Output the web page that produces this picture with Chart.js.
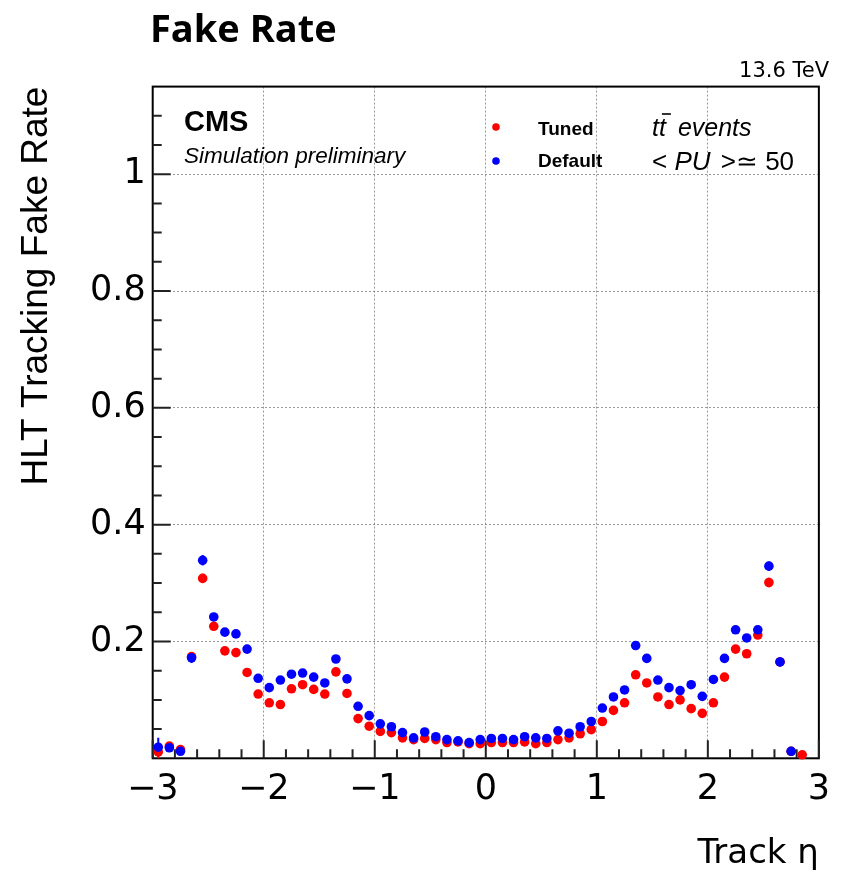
<!DOCTYPE html>
<html>
<head>
<meta charset="utf-8">
<script src="https://cdn.jsdelivr.net/npm/chart.js@4.4.1/dist/chart.umd.min.js"></script>
<style>
  html, body { margin: 0; padding: 0; background: #ffffff; }
  #wrap { width: 841px; height: 878px; position: relative; }
</style>
</head>
<body>
<div id="wrap"><canvas id="c" width="841" height="878"></canvas></div>
<script>
// Track eta bin centres (bin width 0.1)
const etaBins = [
  -2.95, -2.85, -2.75, -2.65, -2.55, -2.45, -2.35, -2.25, -2.15, -2.05,
  -1.95, -1.85, -1.75, -1.65, -1.55, -1.45, -1.35, -1.25, -1.15, -1.05,
  -0.95, -0.85, -0.75, -0.65, -0.55, -0.45, -0.35, -0.25, -0.15, -0.05,
   0.05,  0.15,  0.25,  0.35,  0.45,  0.55,  0.65,  0.75,  0.85,  0.95,
   1.05,  1.15,  1.25,  1.35,  1.45,  1.55,  1.65,  1.75,  1.85,  1.95,
   2.05,  2.15,  2.25,  2.35,  2.45,  2.55,  2.65,  2.75,  2.85,  2.95
];

// Fake rate, tuned HLT tracking
const tunedRate = [
  0.011, 0.021, 0.015, 0.174, 0.308, 0.226, 0.184, 0.181, 0.147, 0.110,
  0.095, 0.092, 0.119, 0.126, 0.118, 0.110, 0.148, 0.111, 0.068, 0.055,
  0.046, 0.044, 0.035, 0.032, 0.034, 0.032, 0.027, 0.028, 0.025, 0.025,
  0.027, 0.027, 0.027, 0.028, 0.025, 0.027, 0.032, 0.035, 0.042, 0.049,
  0.063, 0.082, 0.095, 0.143, 0.129, 0.105, 0.092, 0.100, 0.085, 0.077,
  0.095, 0.139, 0.187, 0.179, 0.211, 0.301, 0.165, 0.012, 0.006, null
];
const tunedErr = [
  0.013, 0.004, 0.004, 0.007, 0.008, 0.005, 0.004, 0.004, 0.004, 0.003,
  0.003, 0.003, 0.003, 0.003, 0.003, 0.003, 0.003, 0.003, 0.002, 0.002,
  0.002, 0.002, 0.002, 0.002, 0.002, 0.002, 0.002, 0.002, 0.002, 0.002,
  0.002, 0.002, 0.002, 0.002, 0.002, 0.002, 0.002, 0.002, 0.002, 0.002,
  0.002, 0.002, 0.003, 0.003, 0.003, 0.003, 0.003, 0.003, 0.003, 0.003,
  0.003, 0.004, 0.005, 0.005, 0.006, 0.008, 0.007, 0.004, 0.004, null
];

// Fake rate, default HLT tracking
const defaultRate = [
  0.019, 0.018, 0.012, 0.172, 0.339, 0.242, 0.216, 0.213, 0.187, 0.137,
  0.121, 0.134, 0.144, 0.146, 0.139, 0.129, 0.170, 0.136, 0.089, 0.073,
  0.059, 0.054, 0.044, 0.035, 0.045, 0.037, 0.032, 0.030, 0.027, 0.032,
  0.034, 0.034, 0.032, 0.037, 0.035, 0.034, 0.047, 0.043, 0.054, 0.063,
  0.086, 0.105, 0.117, 0.193, 0.171, 0.134, 0.121, 0.116, 0.126, 0.106,
  0.135, 0.171, 0.220, 0.206, 0.220, 0.329, 0.165, 0.012, null, null
];
const defaultErr = [
  0.016, 0.005, 0.004, 0.009, 0.009, 0.006, 0.005, 0.005, 0.004, 0.003,
  0.003, 0.003, 0.003, 0.003, 0.003, 0.003, 0.004, 0.003, 0.002, 0.002,
  0.002, 0.002, 0.002, 0.002, 0.002, 0.002, 0.002, 0.002, 0.002, 0.002,
  0.002, 0.002, 0.002, 0.002, 0.002, 0.002, 0.002, 0.002, 0.002, 0.002,
  0.002, 0.003, 0.003, 0.004, 0.004, 0.003, 0.003, 0.003, 0.003, 0.003,
  0.003, 0.004, 0.007, 0.005, 0.007, 0.008, 0.008, 0.004, null, null
];

// Axis tick labels
const xTickValues = [-3, -2, -1, 0, 1, 2, 3];
const xTickLabels = ['\u22123', '\u22122', '\u22121', '0', '1', '2', '3'];
const yTickValues = [0, 0.2, 0.4, 0.6, 0.8, 1.0];
const yTickLabels = ['', '0.2', '0.4', '0.6', '0.8', '1'];

const seriesNames = ['Tuned', 'Default'];
const seriesColors = ['#ff0000', '#0000ff'];

function toPoints(values, errs) {
  const pts = [];
  for (let i = 0; i < etaBins.length; i++) {
    if (values[i] === null) continue;
    pts.push({ x: etaBins[i], y: values[i], err: errs[i] || 0 });
  }
  return pts;
}

function labelFor(values, labels, v) {
  for (let i = 0; i < values.length; i++) {
    if (Math.abs(values[i] - v) < 1e-6) return labels[i];
  }
  return '';
}

// ROOT-style frame, inner ticks and vertical error bars
const rootFrame = {
  id: 'rootFrame',
  beforeDatasetsDraw(chart) {
    const { ctx, chartArea: a, scales: { x, y } } = chart;
    ctx.save();
    ctx.strokeStyle = '#000';
    ctx.lineWidth = 2;
    ctx.strokeRect(a.left, a.top, a.right - a.left, a.bottom - a.top);

    ctx.strokeStyle = '#222';
    ctx.lineWidth = 2;
    ctx.beginPath();
    for (let k = -15; k <= 15; k++) {
      const v = k * 0.2;
      const px = x.getPixelForValue(v);
      const major = (k % 5 === 0);
      ctx.moveTo(px, a.bottom);
      ctx.lineTo(px, a.bottom - (major ? 18 : 9));
    }
    for (let k = 1; k <= 22; k++) {
      const v = k * 0.05;
      const py = y.getPixelForValue(v);
      const major = (k % 4 === 0);
      ctx.moveTo(a.left, py);
      ctx.lineTo(a.left + (major ? 18 : 9), py);
    }
    ctx.stroke();

    // error bars, drawn under the markers
    ctx.lineWidth = 2;
    chart.data.datasets.forEach(ds => {
      ctx.strokeStyle = ds.backgroundColor;
      ctx.beginPath();
      ds.data.forEach(p => {
        if (!p.err) return;
        const px = x.getPixelForValue(p.x);
        ctx.moveTo(px, y.getPixelForValue(Math.max(0, p.y - p.err)));
        ctx.lineTo(px, y.getPixelForValue(p.y + p.err));
      });
      ctx.stroke();
    });
    ctx.restore();
  },
  afterDraw(chart) {
    const { ctx } = chart;
    ctx.save();
    ctx.fillStyle = '#000';
    ctx.textAlign = 'left';
    ctx.textBaseline = 'alphabetic';

    ctx.font = 'bold 38px "Open Sans"';
    ctx.fillText('Fake Rate', 150, 42);

    ctx.textAlign = 'right';
    ctx.font = '21px "DejaVu Sans"';
    ctx.fillText('13.6 TeV', 829, 77);

    ctx.textAlign = 'left';
    ctx.font = 'bold 29px "Liberation Sans"';
    ctx.fillText('CMS', 184, 131);
    ctx.font = 'italic 22.5px "Liberation Sans"';
    ctx.fillText('Simulation preliminary', 184, 163);

    // legend
    const legendY = [127, 161];
    const legendText = [135, 167];
    for (let i = 0; i < 2; i++) {
      ctx.fillStyle = seriesColors[i];
      ctx.beginPath();
      ctx.arc(496, legendY[i], 3.8, 0, Math.PI * 2);
      ctx.fill();
      ctx.fillStyle = '#000';
      ctx.font = 'bold 19px "Liberation Sans"';
      ctx.fillText(seriesNames[i], 538, legendText[i]);
    }

    // t tbar events
    ctx.font = 'italic 25px "Liberation Sans"';
    const t1 = ctx.measureText('t').width;
    ctx.fillText('t', 652, 136);
    ctx.fillText('t', 652 + t1, 136);
    ctx.fillText('events', 652 + 2 * t1 + 12, 136);
    ctx.lineWidth = 1.6;
    ctx.strokeStyle = '#000';
    ctx.beginPath();
    ctx.moveTo(652 + t1 + 3, 114);
    ctx.lineTo(652 + 2 * t1 + 5, 114);
    ctx.stroke();

    // < PU > ~ 50
    let cx = 652;
    ctx.font = '26px "Liberation Sans"';
    ctx.fillText('< ', cx, 170);
    cx += ctx.measureText('< ').width;
    ctx.font = 'italic 26px "Liberation Sans"';
    ctx.fillText('PU', cx, 170);
    cx += ctx.measureText('PU').width + 3;
    ctx.font = '26px "Liberation Sans"';
    ctx.fillText(' >\u2243 50', cx, 170);
    ctx.restore();
  }
};

const chart = new Chart(document.getElementById('c'), {
  type: 'scatter',
  data: {
    datasets: [
      {
        label: seriesNames[0],
        data: toPoints(tunedRate, tunedErr),
        backgroundColor: seriesColors[0],
        borderWidth: 0,
        pointRadius: 4.8,
        order: 2,
        clip: false
      },
      {
        label: seriesNames[1],
        data: toPoints(defaultRate, defaultErr),
        backgroundColor: seriesColors[1],
        borderWidth: 0,
        pointRadius: 4.8,
        order: 1,
        clip: false
      }
    ]
  },
  options: {
    responsive: false,
    animation: false,
    devicePixelRatio: 1,
    layout: { padding: { top: 86.6, right: 10.3, left: 0, bottom: 0 } },
    plugins: {
      legend: { display: false },
      tooltip: { enabled: false },
      title: { display: false }
    },
    scales: {
      x: {
        type: 'linear',
        min: -3,
        max: 3,
        afterFit(s) { s.height = 119.7; },
        afterBuildTicks(s) { s.ticks = xTickValues.map(v => ({ value: v })); },
        ticks: {
          autoSkip: false,
          maxRotation: 0,
          padding: 11,
          color: '#000',
          font: { family: '"DejaVu Sans"', size: 35 },
          callback: v => labelFor(xTickValues, xTickLabels, v)
        },
        grid: {
          color: 'rgba(110,110,110,0.7)',
          lineWidth: 1,
          drawTicks: false
        },
        border: { display: false, dash: [2, 2] },
        title: {
          display: true,
          text: 'Track \u03b7',
          align: 'end',
          color: '#000',
          font: { family: '"DejaVu Sans"', size: 34 },
          padding: { top: 0, bottom: 3 }
        }
      },
      y: {
        type: 'linear',
        min: 0,
        max: 1.15,
        afterFit(s) { s.width = 152.7; },
        afterBuildTicks(s) { s.ticks = yTickValues.map(v => ({ value: v })); },
        ticks: {
          autoSkip: false,
          padding: 7,
          color: '#000',
          font: { family: '"DejaVu Sans"', size: 35 },
          callback: v => labelFor(yTickValues, yTickLabels, v)
        },
        grid: {
          color: 'rgba(110,110,110,0.7)',
          lineWidth: 1,
          drawTicks: false
        },
        border: { display: false, dash: [2, 2] },
        title: {
          display: true,
          text: 'HLT Tracking Fake Rate',
          align: 'end',
          color: '#000',
          font: { family: '"Liberation Sans"', size: 37 },
          padding: { top: 15, bottom: 0 }
        }
      }
    }
  },
  plugins: [rootFrame]
});
</script>
</body>
</html>
